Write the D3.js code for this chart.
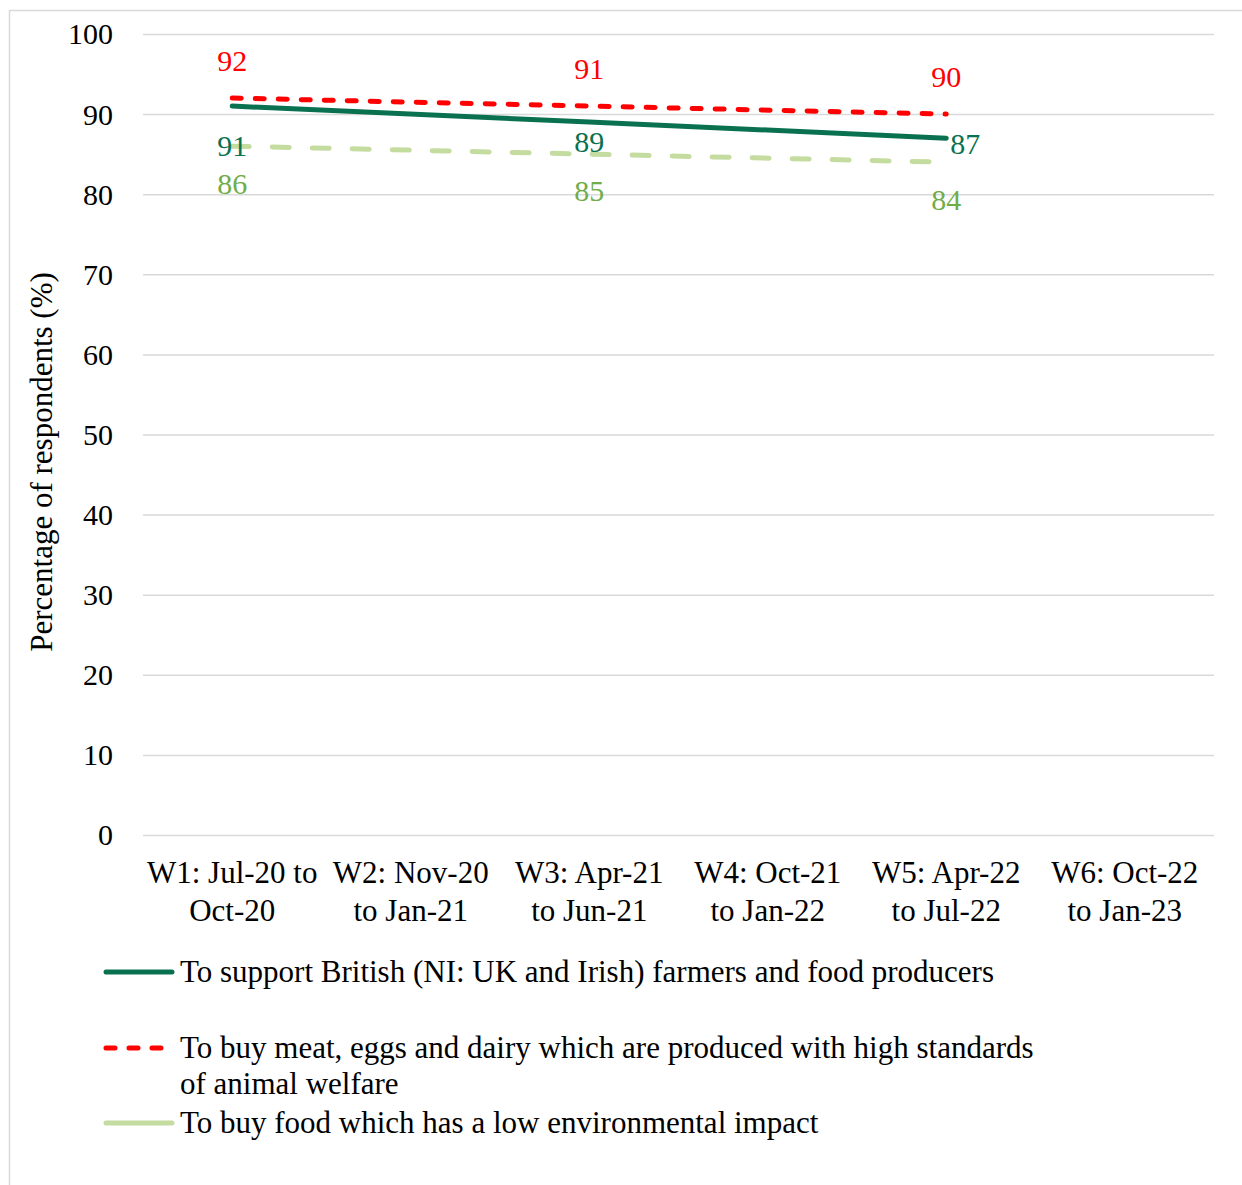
<!DOCTYPE html>
<html>
<head>
<meta charset="utf-8">
<script src="https://cdn.jsdelivr.net/npm/d3@7"></script>
<style>
  html, body { margin: 0; padding: 0; background: #fff; }
  svg { display: block; font-family: "Liberation Serif", "Times New Roman", serif; }
  svg text { font-family: "Liberation Serif", "Times New Roman", serif; }
</style>
</head>
<body>
<svg id="chart" width="1242" height="1185"></svg>
<script>
// ---- Data ----
const categories = [
  ["W1: Jul-20 to", "Oct-20"],
  ["W2: Nov-20", "to Jan-21"],
  ["W3: Apr-21", "to Jun-21"],
  ["W4: Oct-21", "to Jan-22"],
  ["W5: Apr-22", "to Jul-22"],
  ["W6: Oct-22", "to Jan-23"]
];
const seriesNames = [
  "To support British (NI: UK and Irish) farmers and food producers",
  "To buy meat, eggs and dairy which are produced with high standards of animal welfare",
  "To buy food which has a low environmental impact"
];
const supportBritish = [91, null, 89, null, 87, null];
const animalWelfare = [92, null, 91, null, 90, null];
const lowEnvironmental = [86, null, 85, null, 84, null];
const yTicks = [0, 10, 20, 30, 40, 50, 60, 70, 80, 90, 100];

// ---- Styles / placement (not data) ----
const series = [
  { name: seriesNames[0], values: supportBritish, color: "#0a7150", labelColor: "#0a7150",
    dash: null, legendDash: null, legendLines: [seriesNames[0]],
    labelPos: [[0, 40, "middle"], null, [0, 20, "middle"], null, [4, 6, "start"], null] },
  { name: seriesNames[1], values: animalWelfare, color: "#ff0000", labelColor: "#ff0000",
    dash: "9,14", legendDash: "9,14",
    legendLines: ["To buy meat, eggs and dairy which are produced with high standards", "of animal welfare"],
    labelPos: [[0, -37, "middle"], null, [0, -37, "middle"], null, [0, -37, "middle"], null] },
  { name: seriesNames[2], values: lowEnvironmental, color: "#c5dca0", labelColor: "#70ad47",
    dash: "17,23", legendDash: null, legendLines: [seriesNames[2]],
    labelPos: [[0, 38, "middle"], null, [0, 37, "middle"], null, [0, 38, "middle"], null] }
];

const FONT = "Liberation Serif, Times New Roman, serif";
const svg = d3.select("#chart");
const margin = { left: 143, right: 1214, top: 34, bottom: 835 };

// outer frame
svg.append("rect").attr("x", 9.5).attr("y", 10.5).attr("width", 1260).attr("height", 1200)
  .attr("fill", "none").attr("stroke", "#d9d9d9").attr("stroke-width", 1.5);

const x = d3.scaleBand().domain(d3.range(categories.length)).range([margin.left, margin.right]);
const y = d3.scaleLinear().domain([0, 100]).range([margin.bottom, margin.top]);
const cx = i => x(i) + x.bandwidth() / 2;

// gridlines + y tick labels
const yAxis = d3.axisLeft(y).tickValues(yTicks).tickSize(-(margin.right - margin.left)).tickPadding(30).tickFormat(d3.format("d"));
const gy = svg.append("g").attr("transform", `translate(${margin.left},0)`).call(yAxis)
  .attr("font-family", FONT).attr("font-size", 30);
gy.select(".domain").remove();
gy.selectAll(".tick line").attr("stroke", "#d9d9d9").attr("stroke-width", 1.5);
gy.selectAll(".tick text").attr("fill", "#000").attr("dy", "0.33em");

// x axis labels
const xAxis = d3.axisBottom(x).tickSize(0).tickFormat(() => "");
const gx = svg.append("g").attr("transform", `translate(0,${margin.bottom})`).call(xAxis)
  .attr("font-family", FONT).attr("font-size", 31);
gx.select(".domain").remove();
gx.selectAll(".tick").each(function(d) {
  const t = d3.select(this).append("text").attr("fill", "#000").attr("text-anchor", "middle");
  categories[d].forEach((line, k) => {
    t.append("tspan").attr("x", 0).attr("y", 38 + k * 38).attr("dy", "0.33em").text(line);
  });
});

// y axis title
svg.append("text")
  .attr("transform", `translate(42,462) rotate(-90)`)
  .attr("text-anchor", "middle").attr("dy", "0.33em").attr("font-size", 31).attr("fill", "#000")
  .text("Percentage of respondents (%)");

// lines
const line = d3.line().defined(d => d.v != null).x(d => cx(d.i)).y(d => y(d.v));
[2, 0, 1].forEach(si => {
  const s = series[si];
  const pts = s.values.map((v, i) => ({ v, i })).filter(d => d.v != null);
  svg.append("path").datum(pts).attr("d", line).attr("fill", "none")
    .attr("stroke", s.color).attr("stroke-width", 5).attr("stroke-linecap", "round")
    .attr("stroke-linejoin", "round")
    .attr("stroke-dasharray", s.dash);
});

// data labels
series.forEach(s => {
  s.values.forEach((v, i) => {
    if (v == null) return;
    const p = s.labelPos[i];
    svg.append("text").attr("x", cx(i) + p[0]).attr("y", y(v) + p[1]).attr("dy", "0.33em")
      .attr("text-anchor", p[2]).attr("font-size", 30).attr("fill", s.labelColor).text(v);
  });
});

// legend
const legendY = [972, 1048, 1123];
series.forEach((s, k) => {
  const ly = legendY[k];
  svg.append("line").attr("x1", 106).attr("x2", s.legendDash ? 166 : 172)
    .attr("y1", ly).attr("y2", ly).attr("stroke", s.color).attr("stroke-width", 5)
    .attr("stroke-linecap", "round").attr("stroke-dasharray", s.legendDash);
  const t = svg.append("text").attr("font-size", 31).attr("fill", "#000");
  s.legendLines.forEach((ln, j) => {
    t.append("tspan").attr("x", 180).attr("y", ly + j * 36).attr("dy", "0.33em").text(ln);
  });
});
</script>
</body>
</html>
